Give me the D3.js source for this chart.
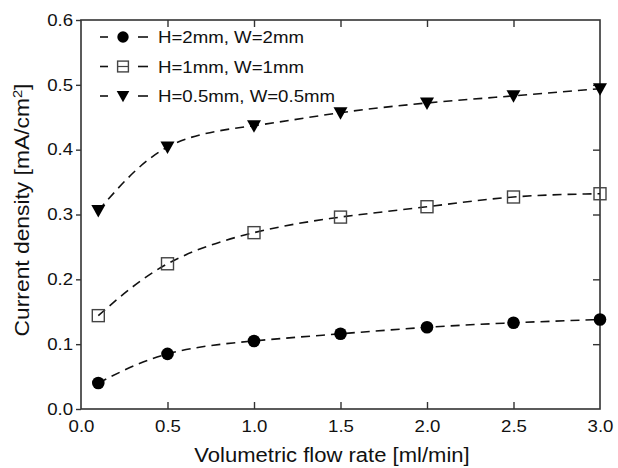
<!DOCTYPE html>
<html>
<head>
<meta charset="utf-8">
<script src="https://cdn.jsdelivr.net/npm/d3@7"></script>
<style>
  body { margin: 0; background: #fff; }
  text { font-family: "Liberation Sans", Arial, sans-serif; fill: #111; }
</style>
</head>
<body>
<div id="chart"></div>
<script>
const svgWidth = 618,
    svgHeight = 468,
    margin = { top: 20, right: 18, bottom: 59, left: 81 },
    width = svgWidth - margin.left - margin.right,
    height = svgHeight - margin.top - margin.bottom;

// data
const flowRates = [0.1, 0.5, 1.0, 1.5, 2.0, 2.5, 3.0];
const seriesH2 = [0.040, 0.085, 0.105, 0.116, 0.126, 0.133, 0.138];
const seriesH1 = [0.144, 0.224, 0.272, 0.296, 0.312, 0.327, 0.332];
const seriesH05 = [0.306, 0.404, 0.437, 0.457, 0.472, 0.483, 0.494];
const seriesNames = ["H=2mm, W=2mm", "H=1mm, W=1mm", "H=0.5mm, W=0.5mm"];
const seriesMarkers = ["circle", "square", "triangle"];
const xTicks = [0, 0.5, 1.0, 1.5, 2.0, 2.5, 3.0];
const yTicks = [0, 0.1, 0.2, 0.3, 0.4, 0.5, 0.6];

const allSeries = [seriesH2, seriesH1, seriesH05].map((vals, i) => ({
    name: seriesNames[i],
    marker: seriesMarkers[i],
    points: flowRates.map((x, j) => ({ x: x, y: vals[j] }))
}));

// the original type is a little wider than Liberation Sans
const stretch = 1.13;

let svg = d3.select("#chart").append("svg")
    .attr("width", svgWidth)
    .attr("height", svgHeight);
let plot = svg.append("g")
    .attr("transform", `translate(${margin.left},${margin.top})`);

let xScale = d3.scaleLinear().domain([0, 3]).range([0, width]);
let yScale = d3.scaleLinear().domain([0, 0.6]).range([height, 0]);

const axisColor = "#333";

// frame
plot.append("rect")
    .attr("width", width)
    .attr("height", height)
    .attr("fill", "none")
    .attr("stroke", axisColor)
    .attr("stroke-width", 1.6);

// bottom axis, ticks inside
let xAxis = plot.append("g")
    .attr("transform", `translate(0,${height})`)
    .call(d3.axisBottom(xScale).tickValues(xTicks).tickSize(-7).tickPadding(11).tickFormat(d3.format(".1f")));
// top ticks only
let xTop = plot.append("g")
    .call(d3.axisTop(xScale).tickValues(xTicks).tickSize(-7).tickFormat(""));
// left axis, ticks outside
let yAxis = plot.append("g")
    .call(d3.axisLeft(yScale).tickValues(yTicks).tickSize(5).tickPadding(2).tickFormat(d3.format(".1f")));
// right ticks inside
let yRight = plot.append("g")
    .attr("transform", `translate(${width},0)`)
    .call(d3.axisRight(yScale).tickValues(yTicks).tickSize(-7).tickFormat(""));

[xAxis, xTop, yAxis, yRight].forEach(a => {
    a.select(".domain").remove();
    a.selectAll(".tick line").attr("stroke", axisColor).attr("stroke-width", 1.4);
    a.selectAll(".tick text")
        .style("font-size", "16.5px")
        .attr("fill", "#111")
        .attr("transform", `scale(${stretch},1)`);
});
// hide end ticks that sit on the frame
xAxis.selectAll(".tick line").filter(d => d === 0 || d === 3).remove();
xTop.selectAll(".tick line").filter(d => d === 0 || d === 3).remove();
yRight.selectAll(".tick line").filter(d => d === 0 || d === 0.6).remove();

// axis titles
svg.append("text")
    .attr("text-anchor", "middle")
    .attr("transform", `translate(332,462) scale(${stretch},1)`)
    .style("font-size", "19.5px")
    .text("Volumetric flow rate [ml/min]");
svg.append("text")
    .attr("text-anchor", "middle")
    .attr("transform", `translate(29,210) rotate(-90) scale(${stretch + 0.04},1)`)
    .style("font-size", "19.5px")
    .html('Current density [mA/cm<tspan dy="-7" font-size="12.5px">2</tspan><tspan dy="7">]</tspan>');

// lines
let line = d3.line()
    .x(d => xScale(d.x))
    .y(d => yScale(d.y))
    .curve(d3.curveNatural);

plot.selectAll(".series-line")
    .data(allSeries)
    .join("path")
    .attr("class", "series-line")
    .attr("d", d => line(d.points))
    .attr("fill", "none")
    .attr("stroke", "#111")
    .attr("stroke-width", 1.6)
    .attr("stroke-dasharray", "9,6");

function drawMarker(g, type, cx, cy, size) {
    let s = size || 1;
    if (type === "circle") {
        g.append("circle").attr("cx", cx).attr("cy", cy).attr("r", 6.3 * s).attr("fill", "#000");
    } else if (type === "square") {
        // open square, the dashed line shows through it
        g.append("rect").attr("x", cx - 6 * s).attr("y", cy - 6 * s).attr("width", 12 * s).attr("height", 12 * s)
            .attr("fill", "none").attr("stroke", "#444").attr("stroke-width", 1.4);
    } else {
        g.append("path")
            .attr("d", `M${cx - 7 * s},${cy - 5.5 * s}L${cx + 7 * s},${cy - 5.5 * s}L${cx},${cy + 7 * s}Z`)
            .attr("fill", "#000");
    }
}

// markers
allSeries.forEach(s => {
    let g = plot.append("g");
    s.points.forEach(p => drawMarker(g, s.marker, xScale(p.x), yScale(p.y)));
});

// legend
let legend = svg.append("g");
seriesNames.forEach((name, i) => {
    let y = 37 + i * 29.5;
    let g = legend.append("g");
    g.append("line").attr("x1", 100).attr("x2", 108).attr("y1", y).attr("y2", y)
        .attr("stroke", "#111").attr("stroke-width", 1.6);
    g.append("line").attr("x1", 138).attr("x2", 148).attr("y1", y).attr("y2", y)
        .attr("stroke", "#111").attr("stroke-width", 1.6);
    drawMarker(g, seriesMarkers[i], 123, y, 0.9);
    if (seriesMarkers[i] === "square") {
        g.append("line").attr("x1", 118).attr("x2", 128).attr("y1", y).attr("y2", y)
            .attr("stroke", "#444").attr("stroke-width", 1.2);
    }
    g.append("text")
        .attr("transform", `translate(158,${y + 6}) scale(${stretch},1)`)
        .style("font-size", "16.5px")
        .text(name);
});
</script>
</body>
</html>
